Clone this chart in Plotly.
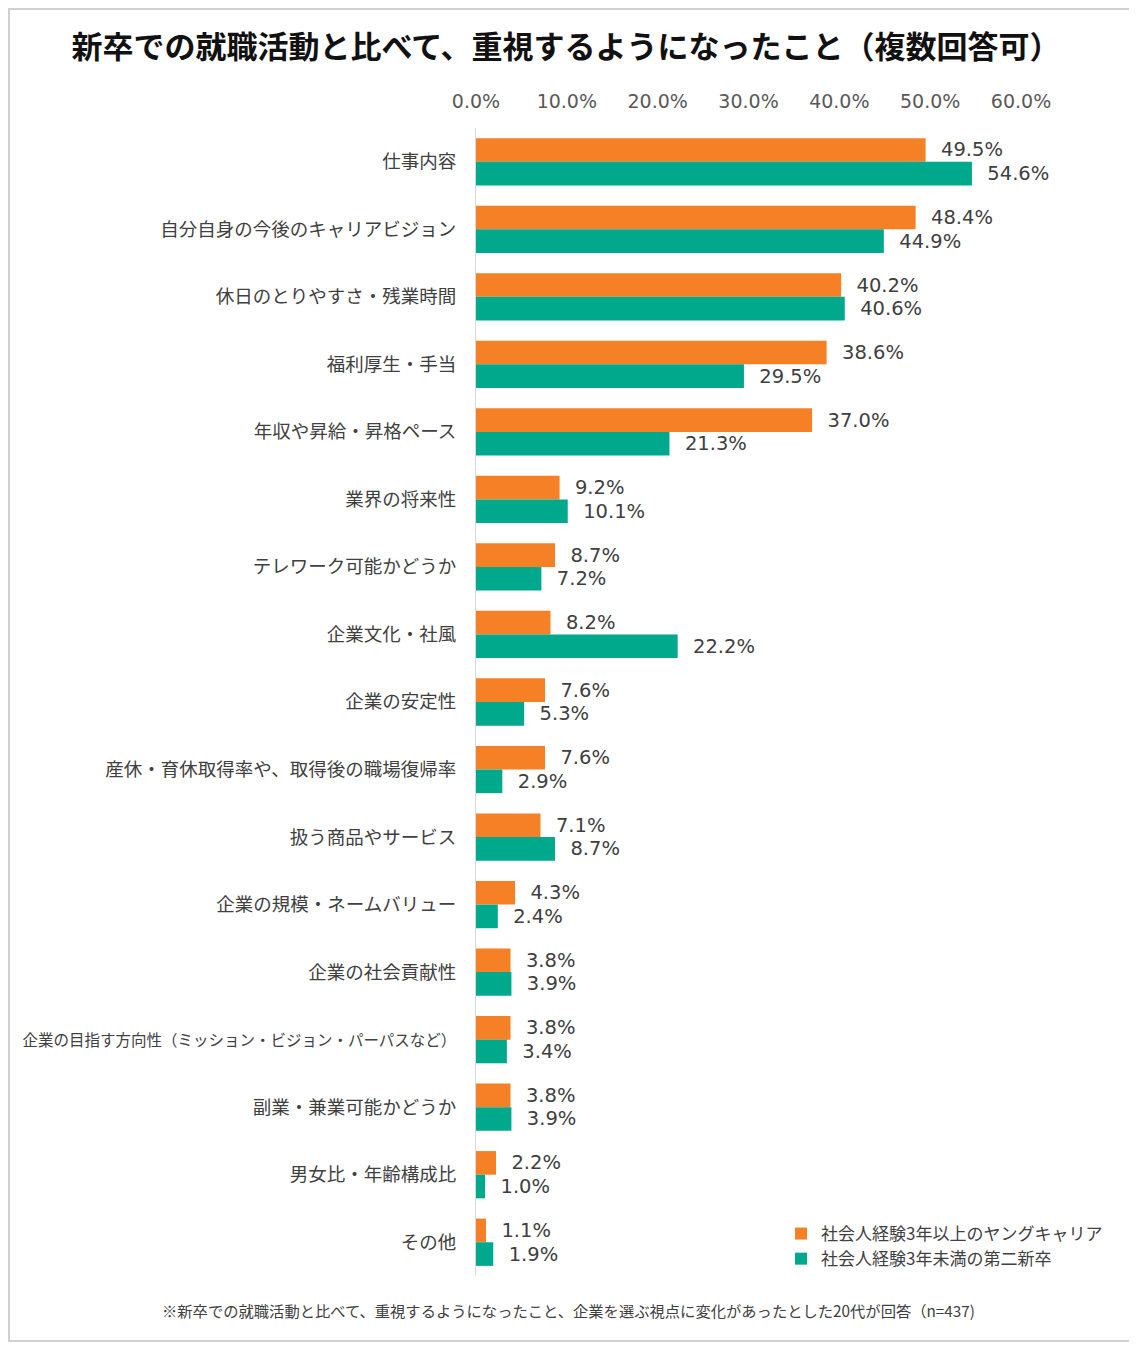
import plotly.graph_objects as go

# Data (percent)
categories = [
    "仕事内容",
    "自分自身の今後のキャリアビジョン",
    "休日のとりやすさ・残業時間",
    "福利厚生・手当",
    "年収や昇給・昇格ペース",
    "業界の将来性",
    "テレワーク可能かどうか",
    "企業文化・社風",
    "企業の安定性",
    "産休・育休取得率や、取得後の職場復帰率",
    "扱う商品やサービス",
    "企業の規模・ネームバリュー",
    "企業の社会貢献性",
    "企業の目指す方向性（ミッション・ビジョン・パーパスなど）",
    "副業・兼業可能かどうか",
    "男女比・年齢構成比",
    "その他",
]
young_career = [49.5, 48.4, 40.2, 38.6, 37.0, 9.2, 8.7, 8.2, 7.6, 7.6, 7.1, 4.3, 3.8, 3.8, 3.8, 2.2, 1.1]
second_grad = [54.6, 44.9, 40.6, 29.5, 21.3, 10.1, 7.2, 22.2, 5.3, 2.9, 8.7, 2.4, 3.9, 3.4, 3.9, 1.0, 1.9]
series_names = ["社会人経験3年以上のヤングキャリア", "社会人経験3年未満の第二新卒"]
tick_values = [0, 10, 20, 30, 40, 50, 60]
tick_labels = [f"{v:.1f}%" for v in tick_values]

title_text = "新卒での就職活動と比べて、重視するようになったこと（複数回答可）"
note_text = "※新卒での就職活動と比べて、重視するようになったこと、企業を選ぶ視点に変化があったとした20代が回答（n=437)"

ORANGE = "#F58025"
TEAL = "#00A98B"
TEXT = "#404040"

# page is 1137x1350, the browser puts the figure 8px in from the top-left
PAGE_W, PAGE_H, OFF = 1137, 1350, 8
W, H = PAGE_W - OFF, PAGE_H - OFF
PLOT_L, PLOT_R, PLOT_T, PLOT_B = 476, 1021, 128, 1276   # page pixels
M_L, M_R, M_T, M_B = PLOT_L - OFF, PAGE_W - PLOT_R, PLOT_T - OFF, PAGE_H - PLOT_B


def px_x(px):
    return (px - PLOT_L) / (PLOT_R - PLOT_L)


def px_y(py):
    return (PLOT_B - py) / (PLOT_B - PLOT_T)


# long label gets a smaller font so it fits the left margin like the original
labels = [
    f'<span style="font-size:15.5px">{c}</span>' if len(c) > 22 else c
    for c in categories
]

fig = go.Figure()
for name, vals, color in [(series_names[0], young_career, ORANGE),
                          (series_names[1], second_grad, TEAL)]:
    fig.add_trace(go.Bar(
        y=labels, x=vals, name=name, orientation="h",
        marker=dict(color=color, line=dict(width=0)),
        texttemplate="\u00a0\u00a0%{x:.1f}%",
        textposition="outside",
        constraintext="none",
        cliponaxis=False,
        textfont=dict(family="DejaVu Sans", size=19.5, color=TEXT),
        hoverinfo="skip",
    ))

fig.update_layout(
    width=W, height=H,
    margin=dict(l=M_L, r=M_R, t=M_T, b=M_B, autoexpand=False),
    paper_bgcolor="white", plot_bgcolor="white",
    barmode="group", bargap=0.3, bargroupgap=0,
    font=dict(family="Noto Sans CJK JP", color=TEXT),
    title=dict(text=f"<b>{title_text}</b>", x=(566 - OFF) / W, xref="container",
               xanchor="center", y=1 - (47 - OFF) / H, yref="container", yanchor="middle",
               font=dict(family="Noto Sans CJK JP", size=31, color="#111111")),
    xaxis=dict(range=[0, 60], tickvals=tick_values, ticktext=tick_labels,
               side="top", showgrid=False, zeroline=False, showline=False, ticks="",
               ticklabelstandoff=15, automargin=False,
               tickfont=dict(family="DejaVu Sans", size=19, color="#595959")),
    yaxis=dict(autorange="reversed", showgrid=False, zeroline=False,
               showline=True, linecolor="#d9d9d9", linewidth=1, ticks="",
               ticklabelstandoff=15, automargin=False,
               tickfont=dict(family="Noto Sans CJK JP", size=18.5, color=TEXT)),
    legend=dict(x=px_x(781), y=px_y(1216), xanchor="left", yanchor="top",
                bgcolor="rgba(0,0,0,0)", tracegroupgap=0,
                font=dict(family="Noto Sans CJK JP", size=17, color=TEXT)),
    annotations=[dict(text=note_text, xref="paper", yref="paper",
                      x=px_x(568), y=px_y(1310), xanchor="center", yanchor="middle",
                      showarrow=False,
                      font=dict(family="Noto Sans CJK JP", size=15.3, color=TEXT))],
    shapes=[dict(type="rect", xref="paper", yref="paper",
                 x0=px_x(OFF + 1), x1=px_x(PAGE_W - 3), y0=px_y(1341), y1=px_y(OFF + 1),
                 line=dict(color="#d0d0d0", width=2), layer="below")],
)

fig.write_html("out.html")
